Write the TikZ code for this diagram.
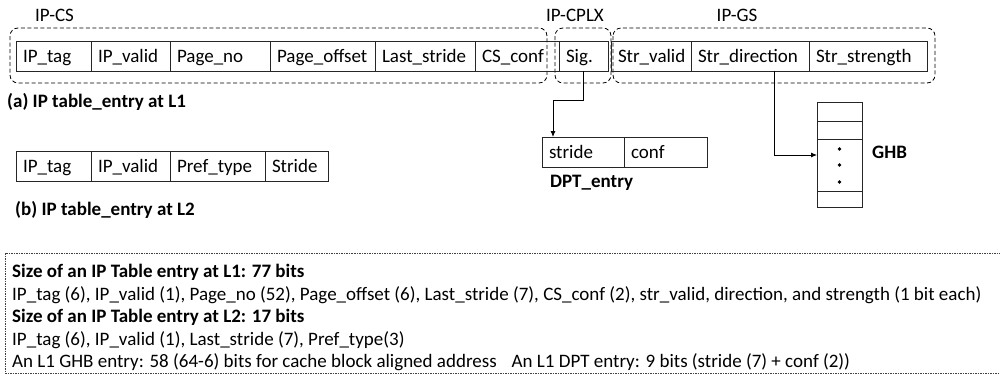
\documentclass[tikz,border=0pt]{standalone}
\usepackage{fontspec}
\setmainfont{Carlito}
\usepackage{tikz}
\usetikzlibrary{arrows.meta,positioning,calc}

\begin{document}
\begin{tikzpicture}[x=1pt,y=-1pt,font=\fontsize{19}{22.5}\selectfont,
  cell/.style={draw=black!85,line width=0.8pt,anchor=west,outer sep=0pt,minimum height=30pt,inner xsep=7pt,inner ysep=0pt,text width={#1-14pt},align=left,text height=14pt,text depth=2pt},
  group/.style={draw,line width=0.8pt,dash pattern=on 4pt off 2.5pt,rounded corners=8pt},
  notebox/.style={draw=black!75,line width=0.6pt,dash pattern=on 1.5pt off 1pt},
  ghbrow/.style={draw=black!85,line width=0.8pt,outer sep=0pt,inner sep=0pt,minimum width=45pt,minimum height=#1},
  txt/.style={anchor=west,inner sep=0pt},
  lbl/.style={txt,font=\fontsize{19}{22.5}\selectfont\bfseries},
  arr/.style={-{Latex[length=6pt,width=5pt]},line width=0.8pt}]
\useasboundingbox (0,0) rectangle (1000,383);

\draw[group] (10,28) rectangle (547,83);
\draw[group] (555,28) rectangle (611,83);
\draw[group] (613,28) rectangle (935,83);
\node[txt] (csname) at (35,15) {IP-CS};
\node (cplxname) at (575,15) {IP-CPLX};
\node (gsname) at (737,15) {IP-GS};

\node[cell=75] (tagA) at (16,56) {IP\_tag};
\node[cell=79,right=0pt of tagA] (validA) {IP\_valid};
\node[cell=100,right=0pt of validA] (pageA) {Page\_no};
\node[cell=105,right=0pt of pageA] (offsetA) {Page\_offset};
\node[cell=100,right=0pt of offsetA] (lastA) {Last\_stride};
\node[cell=84,right=0pt of lastA] (confA) {CS\_conf};
\node[cell=49,right=0pt of confA] (sig) {Sig.};
\node[cell=80,right=3pt of sig] (strvalid) {Str\_valid};
\node[cell=118,right=0pt of strvalid] (strdir) {Str\_direction};
\node[cell=118,right=0pt of strdir] (strstr) {Str\_strength};
\node[lbl] (capA) at (7,102) {(a) IP table\_entry at L1};

\node[cell=75] (tagB) at (16,166.5) {IP\_tag};
\node[cell=79,right=0pt of tagB] (validB) {IP\_valid};
\node[cell=95,right=0pt of validB] (typeB) {Pref\_type};
\node[cell=63,right=0pt of typeB] (strideB) {Stride};
\node[lbl] (capB) at (15,210) {(b) IP table\_entry at L2};

\node[cell=82] (strideD) at (542,152) {stride};
\node[cell=83,right=0pt of strideD] (confD) {conf};
\node[lbl] (dptname) at (550,183) {DPT\_entry};

\node[ghbrow=19] (ghbA) at (839.5,111.5) {};
\node[ghbrow=18,below=0pt of ghbA] (ghbB) {};
\node[ghbrow=52,below=0pt of ghbB] (ghbmid) {};
\node[ghbrow=16,below=0pt of ghbmid] (ghbD) {};
\fill (ghbmid.center) ++(0,-16) circle (1.8pt) (ghbmid.center) circle (1.8pt) (ghbmid.center) ++(0,17) circle (1.8pt);
\node[lbl] (ghbname) at (872,152) {GHB};

\draw[arr] (sig.south) -- ++(0,29) -| ([xshift=11pt]strideD.north west);
\draw[arr] ([xshift=24pt]strdir.south) |- ([yshift=10pt]ghbmid.west);

\draw[notebox] (5,253) rectangle (1004,373);
\node[txt,anchor=north west,align=left] (notes) at (12,264) {\textbf{Size of an IP Table entry at L1: 77 bits}\\
IP\_tag (6), IP\_valid (1), Page\_no (52), Page\_offset (6), Last\_stride (7), CS\_conf (2), str\_valid, direction, and strength (1 bit each)\\
\textbf{Size of an IP Table entry at L2: 17 bits}\\
IP\_tag (6), IP\_valid (1), Last\_stride (7), Pref\_type(3)\\
An L1 GHB entry: 58 (64-6) bits for cache block aligned address\hspace{15pt}An L1 DPT entry: 9 bits (stride (7) + conf (2))};
\end{tikzpicture}
\end{document}
